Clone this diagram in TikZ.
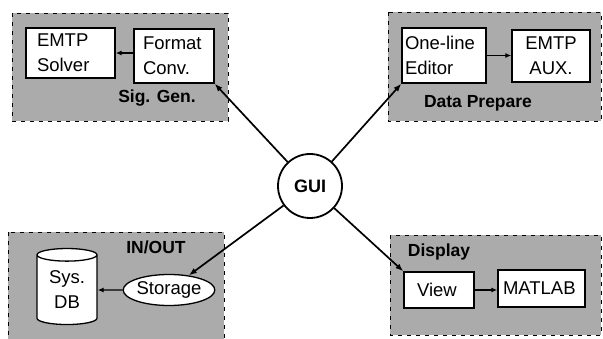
\documentclass[tikz,border=0pt]{standalone}
\usepackage{fontspec}
\setmainfont{Liberation Sans}
\setsansfont{Liberation Sans}
\usetikzlibrary{arrows.meta,shapes.geometric}

\definecolor{panelgray}{HTML}{ABABAB}

\tikzset{
  panel/.style={draw, dashed, fill=panelgray, line width=0.7pt, dash pattern=on 4pt off 5pt},
  blk/.style={draw, fill=white, line width=1.3pt, align=left, inner sep=0pt},
  tag/.style={font=\fontsize{17.5}{20}\selectfont\bfseries, inner sep=0pt},
  link/.style={-{Latex[length=8pt,width=6pt]}, line width=1.7pt},
  sublink/.style={-{Latex[length=6pt,width=5pt]}, line width=1.3pt}
}

\begin{document}
\begin{tikzpicture}[x=1pt,y=-1pt,font=\sffamily\fontsize{18.5}{25}\selectfont]
      \useasboundingbox (0,0) rectangle (603,339);
      % shaded groups
      \draw[panel] (12,13) rectangle (228,121);
      \draw[panel] (388,12) rectangle (601,121);
      \draw[panel] (8,232) rectangle (224,339);
      \draw[panel] (390,235) rectangle (601,335);
      \node[tag] (siggen) at (157,98) {Sig. Gen.};
      \node[tag] (dataprep) at (478,103) {Data Prepare};
      \node[tag] (inout) at (156,247) {IN/OUT};
      \node[tag] (display) at (439,252) {Display};
      % blocks
      \node[blk, inner xsep=11pt, text width=67pt, minimum height=50] (solver) at (70.5,53) {EMTP\\Solver};
      \node[blk, inner xsep=9pt, text width=62pt, minimum height=54] (fmt) at (174,56) {Format\\Conv.};
      \node[blk, inner xsep=3pt, text width=78pt, minimum height=55] (editor) at (444,55.5) {One-line\\Editor};
      \node[blk, minimum width=78, minimum height=52, align=center] (aux) at (551,56) {EMTP\\AUX.};
      \node[blk, inner xsep=13pt, text width=44pt, minimum height=36] (view) at (439,290) {View};
      \node[blk, inner xsep=5pt, text width=77pt, minimum height=37] (matlab) at (541.5,288.5) {MATLAB};
      \node[blk, ellipse, minimum width=82, minimum height=31] (store) at (169,290) {Storage};
      \node[blk, cylinder, shape border rotate=90, aspect=0.35, minimum width=60, minimum height=76, align=center] (db) at (67,290) {Sys.\\DB};
      \node[draw, circle, fill=white, line width=1.8pt, minimum size=64, font=\fontsize{18}{20}\selectfont\bfseries] (gui) at (310,186) {GUI};
      % connectors
      \draw[sublink] (fmt.west |- solver) -- (solver.east);
      \draw[sublink] (editor.east) -- (aux.west |- editor.east);
      \draw[sublink] (store.west) -- (db.east);
      \draw[sublink] (view.east) -- (matlab.west |- view.east);
      \draw[link] (gui) -- (fmt.south east);
      \draw[link] (gui) -- (editor.south west);
      \draw[link] (gui) -- (store);
      \draw[link] (gui) -- (view.north west);
    \end{tikzpicture}
\end{document}
